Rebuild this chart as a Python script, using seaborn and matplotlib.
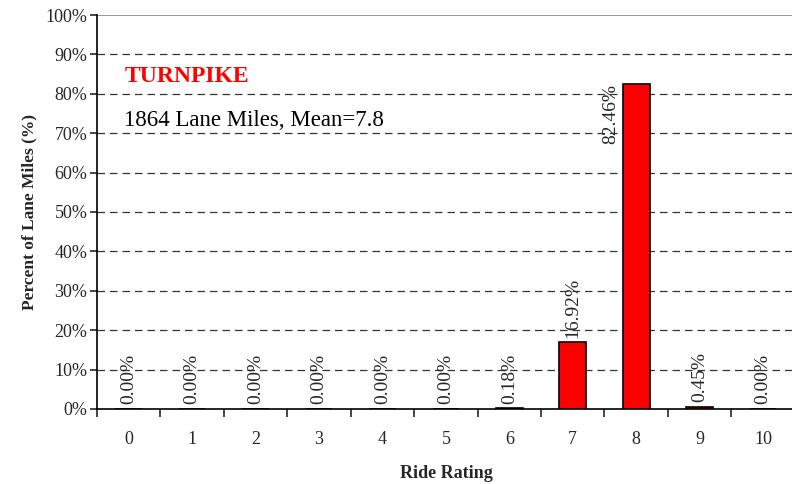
import numpy as np
import pandas as pd
import matplotlib
matplotlib.use('Agg')
import matplotlib.pyplot as plt
import seaborn as sns

# Datos
ratings = ['0', '1', '2', '3', '4', '5', '6', '7', '8', '9', '10']
percents = [0.00, 0.00, 0.00, 0.00, 0.00, 0.00, 0.18, 16.92, 82.46, 0.45, 0.00]
titulo = 'TURNPIKE'
subtitulo = '1864 Lane Miles, Mean=7.8'

df = pd.DataFrame({'rating': ratings, 'pct': percents})

sns.set_style('white')
plt.rcParams['font.family'] = ['Liberation Serif', 'DejaVu Serif']

fig = plt.figure(figsize=(7.92, 4.84), dpi=100)
ax = fig.add_axes([0.1225, 0.155, 0.881, 0.814])

sns.barplot(data=df, x='rating', y='pct', color='#ff0000', width=0.42,
            edgecolor='black', linewidth=1.2, saturation=1, ax=ax, zorder=3)

ax.set_ylim(0, 100)
ax.set_xlim(-0.5, len(ratings) - 0.5)
ax.set_yticks(np.arange(0, 101, 10))
ax.set_yticklabels([f'{v}%' for v in range(0, 101, 10)], fontsize=13)
ax.tick_params(axis='x', labelsize=13, length=0, pad=16)
ax.tick_params(axis='y', length=5, width=1.2, direction='out', left=True, pad=2)

# marcas entre categorias
ax.set_xticks(np.arange(-0.5, len(ratings), 1), minor=True)
ax.tick_params(axis='x', which='minor', length=6, width=1.2, direction='out', bottom=True)

for y in range(10, 100, 10):
    ax.axhline(y, color='#333333', linestyle=(0, (6, 4)), linewidth=0.9, zorder=1)
ax.axhline(100, color='#888888', linewidth=1.2, zorder=1)

for s in ['top', 'right']:
    ax.spines[s].set_visible(False)
for s in ['left', 'bottom']:
    ax.spines[s].set_color('black')
    ax.spines[s].set_linewidth(1.2)

ax.set_xlabel('Ride Rating', fontsize=13, fontweight='bold', labelpad=12)
ax.set_ylabel('Percent of Lane Miles (%)', fontsize=12.5, fontweight='bold', labelpad=6)

# etiquetas de datos
for i, p in enumerate(percents):
    if p > 70:
        ax.text(i - 0.26, p, f'{p:.2f}%', rotation=90, ha='right', va='top',
                fontsize=14, zorder=4)
    else:
        ax.text(i, p + 1.2, f'{p:.2f}%', rotation=90, ha='center', va='bottom',
                fontsize=14, zorder=4)

ax.text(0.039, 0.845, titulo, transform=ax.transAxes, color='#ff0000',
        fontsize=17, fontweight='bold', va='center')
ax.text(0.039, 0.733, subtitulo, transform=ax.transAxes, color='black',
        fontsize=16.5, va='center')

fig.savefig('out.png', dpi=100)
